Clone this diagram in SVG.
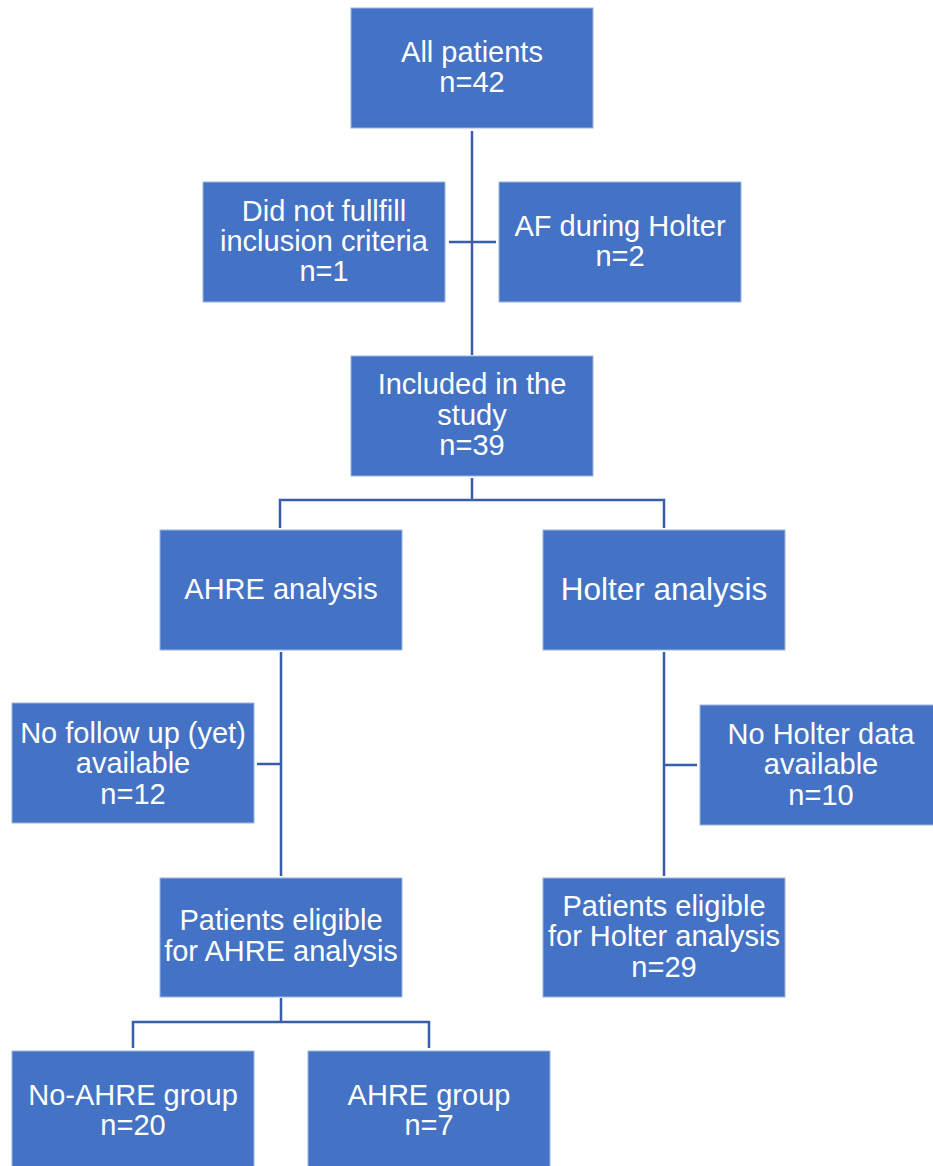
<svg xmlns="http://www.w3.org/2000/svg" width="933" height="1166" viewBox="0 0 933 1166">
<style>
.box{fill:#4472C4;stroke:#9DB4E0;stroke-width:1}
.t{fill:#ffffff;font-family:"Liberation Sans",Arial,sans-serif;font-size:29px;text-anchor:middle}
.big{font-size:31.5px}
.c{fill:none;stroke:#3A5DA8;stroke-width:2.5}
</style>
<rect width="933" height="1166" fill="#ffffff"/>
<g id="connectors">
<path class="c" d="M472 131V355"/>
<path class="c" d="M449 242H496"/>
<path class="c" d="M472 478V500M280 528V500H664V528"/>
<path class="c" d="M281 652V876M257 764H281"/>
<path class="c" d="M664 652V876M664 765H697"/>
<path class="c" d="M281 998V1022M133 1048V1022H429V1048"/>
</g>
<g id="all-patients">
<rect class="box" x="351" y="8" width="242" height="120"/>
<text class="t" x="472" y="62">All patients</text>
<text class="t" x="472" y="92">n=42</text>
</g>
<g id="not-fulfill">
<rect class="box" x="203" y="182" width="242" height="120"/>
<text class="t" x="324" y="221">Did not fullfill</text>
<text class="t" x="324" y="251">inclusion criteria</text>
<text class="t" x="324" y="281">n=1</text>
</g>
<g id="af-holter">
<rect class="box" x="499" y="182" width="242" height="120"/>
<text class="t" x="620" y="236">AF during Holter</text>
<text class="t" x="620" y="266">n=2</text>
</g>
<g id="included">
<rect class="box" x="351" y="356" width="242" height="120"/>
<text class="t" x="472" y="394">Included in the</text>
<text class="t" x="472" y="425">study</text>
<text class="t" x="472" y="455">n=39</text>
</g>
<g id="ahre-analysis">
<rect class="box" x="160" y="530" width="242" height="120"/>
<text class="t" x="281" y="599">AHRE analysis</text>
</g>
<g id="holter-analysis">
<rect class="box" x="543" y="530" width="242" height="120"/>
<text class="t big" x="664" y="600">Holter analysis</text>
</g>
<g id="no-follow-up">
<rect class="box" x="12" y="703" width="242" height="120"/>
<text class="t" x="133" y="743">No follow up (yet)</text>
<text class="t" x="133" y="773">available</text>
<text class="t" x="133" y="804">n=12</text>
</g>
<g id="no-holter-data">
<rect class="box" x="700" y="705" width="242" height="120"/>
<text class="t" x="821" y="744">No Holter data</text>
<text class="t" x="821" y="774">available</text>
<text class="t" x="821" y="805">n=10</text>
</g>
<g id="eligible-ahre">
<rect class="box" x="160" y="878" width="242" height="119"/>
<text class="t" x="281" y="930">Patients eligible</text>
<text class="t" x="281" y="961">for AHRE analysis</text>
</g>
<g id="eligible-holter">
<rect class="box" x="543" y="878" width="242" height="119"/>
<text class="t" x="664" y="916">Patients eligible</text>
<text class="t" x="664" y="946">for Holter analysis</text>
<text class="t" x="664" y="977">n=29</text>
</g>
<g id="no-ahre-group">
<rect class="box" x="12" y="1051" width="242" height="120"/>
<text class="t" x="133" y="1105">No-AHRE group</text>
<text class="t" x="133" y="1135">n=20</text>
</g>
<g id="ahre-group">
<rect class="box" x="308" y="1051" width="242" height="120"/>
<text class="t" x="429" y="1105">AHRE group</text>
<text class="t" x="429" y="1135">n=7</text>
</g>
</svg>
